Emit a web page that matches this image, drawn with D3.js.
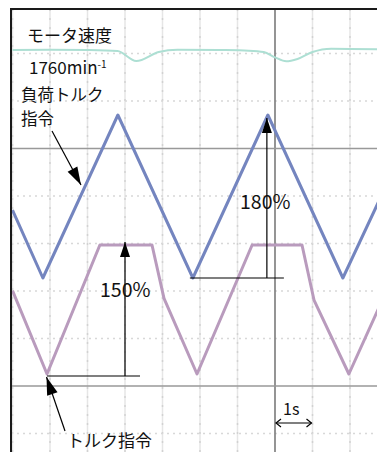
<!DOCTYPE html>
<html>
<head>
<meta charset="utf-8">
<script src="https://cdn.jsdelivr.net/npm/d3@7"></script>
<style>
  html, body { margin: 0; padding: 0; background: #fff; }
  svg { display: block; }
  text { font-family: "Noto Sans CJK JP", "Noto Sans", sans-serif; fill: #111; }
</style>
</head>
<body>
<svg id="chart" width="377" height="452"></svg>
<script>
// Oscilloscope capture: motor speed, load torque command, torque command.
// Time in seconds (1 division = 1 s).

// Load torque command (%), triangular wave
const loadTorqueT = [0, 0.81, 2.81, 4.81, 6.81, 8.81, 9.76];
const loadTorqueV = [75, 0, 180, 0, 180, 0, 84];

// Torque command (%), clipped at 150 %
const torqueT = [0, 0.92, 2.33, 3.72, 4.04, 4.92, 6.39, 7.72, 8.04, 8.97, 9.76];
const torqueV = [97, 0, 150, 150, 88, 0, 150, 150, 86, 0, 76];

// Motor speed (min^-1)
const speedT = [0, 1.0, 2.0, 2.8, 3.3, 3.9, 4.4, 5.5, 6.3, 6.7, 7.0, 7.3, 7.6, 8.0, 8.5, 9.76];
const speedV = [1760, 1761, 1760, 1757, 1727, 1754, 1761, 1760, 1758, 1754, 1738, 1726, 1733, 1754, 1764, 1762];

// Graticule
const gridCols = d3.range(0, 11);      // vertical lines, seconds
const gridRows = d3.range(-1, 9);      // horizontal lines, divisions
const darkCols = [7];
const darkRows = [0, 5];

// Labels
const percentLoad = "180%";
const percentTorque = "150%";

const svg = d3.select("#chart");
const W = 377, H = 452;

const x = d3.scaleLinear().domain([0, 10]).range([12.5, 387.5]);
const yDiv = d3.scaleLinear().domain([0, 8]).range([386, 6]);
const yLoad = d3.scaleLinear().domain([0, 180]).range([278, 115]);
const yTorque = d3.scaleLinear().domain([0, 150]).range([374, 245]);
const ySpeed = d3.scaleLinear().domain([1724, 1760]).range([62, 50]);

const plot = svg.append("g");
plot.append("defs").append("clipPath").attr("id", "clip")
  .append("rect").attr("x", 11).attr("y", 9).attr("width", W - 11).attr("height", H - 9);

const g = plot.append("g").attr("clip-path", "url(#clip)");

// graticule lines
const lightCols = gridCols.filter(c => !darkCols.includes(c));
g.selectAll("line.vgrid").data(lightCols).join("line")
  .attr("x1", d => x(d)).attr("x2", d => x(d))
  .attr("y1", 9).attr("y2", H)
  .attr("stroke", "#e6e6e6").attr("stroke-width", 1.5);
g.selectAll("line.vdot").data(lightCols).join("line")
  .attr("x1", d => x(d)).attr("x2", d => x(d))
  .attr("y1", 9).attr("y2", H)
  .attr("stroke", "#d2d2d2").attr("stroke-width", 1.5)
  .attr("stroke-dasharray", "2,7");
g.selectAll("line.hgrid").data(gridRows.filter(r => !darkRows.includes(r))).join("line")
  .attr("x1", 11).attr("x2", W)
  .attr("y1", d => yDiv(d)).attr("y2", d => yDiv(d))
  .attr("stroke", "#d8d8d8").attr("stroke-width", 1.5)
  .attr("stroke-dasharray", "2,4");
g.selectAll("line.vdark").data(darkCols).join("line")
  .attr("x1", d => x(d)).attr("x2", d => x(d))
  .attr("y1", 9).attr("y2", H)
  .attr("stroke", "#7a7a7a").attr("stroke-width", 1.6);
g.selectAll("line.hdark").data(darkRows).join("line")
  .attr("x1", 11).attr("x2", W)
  .attr("y1", d => yDiv(d)).attr("y2", d => yDiv(d))
  .attr("stroke", "#999").attr("stroke-width", 1.6);

// traces
const lineOf = (ys) => d3.line().x(d => x(d[0])).y(d => ys(d[1]));
g.append("path")
  .datum(d3.zip(speedT, speedV))
  .attr("d", lineOf(ySpeed).curve(d3.curveMonotoneX))
  .attr("fill", "none").attr("stroke", "#addfd3").attr("stroke-width", 2);
g.append("path")
  .datum(d3.zip(loadTorqueT, loadTorqueV))
  .attr("d", lineOf(yLoad))
  .attr("fill", "none").attr("stroke", "#7485bf").attr("stroke-width", 3)
  .attr("stroke-linejoin", "round");
g.append("path")
  .datum(d3.zip(torqueT, torqueV))
  .attr("d", lineOf(yTorque))
  .attr("fill", "none").attr("stroke", "#b99bbd").attr("stroke-width", 3)
  .attr("stroke-linejoin", "round");

// frame
plot.append("line").attr("x1", 10).attr("x2", W).attr("y1", 9).attr("y2", 9)
  .attr("stroke", "#1a1a1a").attr("stroke-width", 2);
plot.append("line").attr("x1", 11).attr("x2", 11).attr("y1", 8).attr("y2", H)
  .attr("stroke", "#1a1a1a").attr("stroke-width", 2);

// annotations
const ann = svg.append("g");
function arrow(x1, y1, x2, y2, len, half) {
  ann.append("line").attr("x1", x1).attr("y1", y1).attr("x2", x2).attr("y2", y2)
    .attr("stroke", "#000").attr("stroke-width", 1.2);
  const a = Math.atan2(y2 - y1, x2 - x1);
  const bx = x2 - len * Math.cos(a), by = y2 - len * Math.sin(a);
  const px = -Math.sin(a) * half, py = Math.cos(a) * half;
  ann.append("path")
    .attr("d", `M${x2},${y2}L${bx + px},${by + py}L${bx - px},${by - py}Z`)
    .attr("fill", "#000");
}

// 180 % span of load torque
const peakX = x(loadTorqueT[4]) - 1;
ann.append("line")
  .attr("x1", x(loadTorqueT[3]) - 3).attr("x2", x(loadTorqueT[3]) + 91)
  .attr("y1", yLoad(0)).attr("y2", yLoad(0))
  .attr("stroke", "#000").attr("stroke-width", 1.2);
arrow(peakX, yLoad(0), peakX, yLoad(180) + 3, 15, 5);

// 150 % span of torque command
const spanX = 125;
ann.append("line")
  .attr("x1", x(torqueT[1])).attr("x2", x(torqueT[1]) + 93)
  .attr("y1", yTorque(0) + 2).attr("y2", yTorque(0) + 2)
  .attr("stroke", "#000").attr("stroke-width", 1.2);
arrow(spanX, yTorque(0) + 2, spanX, yTorque(150) - 3, 15, 5);

// pointers to the traces
arrow(52, 131, 81, 185, 18, 5.5);
arrow(65, 431, x(torqueT[1]) - 0.5, yTorque(0) + 3, 18, 5.5);

// 1 s marker
const sx1 = x(7) + 1, sx2 = x(8) - 1, sy = 423;
ann.append("line").attr("x1", sx1).attr("x2", sx2).attr("y1", sy).attr("y2", sy)
  .attr("stroke", "#000").attr("stroke-width", 1.2);
ann.append("path").attr("d", `M${sx1 + 5},${sy - 4}L${sx1},${sy}L${sx1 + 5},${sy + 4}`)
  .attr("fill", "none").attr("stroke", "#000").attr("stroke-width", 1.2);
ann.append("path").attr("d", `M${sx2 - 5},${sy - 4}L${sx2},${sy}L${sx2 - 5},${sy + 4}`)
  .attr("fill", "none").attr("stroke", "#000").attr("stroke-width", 1.2);

// texts
const fs = "17px";
ann.append("text").attr("x", 27).attr("y", 42).style("font-size", fs).text("モータ速度");
const sp = ann.append("text").attr("x", 29).attr("y", 74).style("font-size", fs);
sp.append("tspan").text("1760min");
sp.append("tspan").attr("dy", -6).style("font-size", "10px").text("-1");
ann.append("text").attr("x", 21).attr("y", 101).style("font-size", "16.5px").text("負荷トルク");
ann.append("text").attr("x", 21).attr("y", 125).style("font-size", "16.5px").text("指令");
ann.append("text").attr("x", 240).attr("y", 209).style("font-size", "19.5px").text(percentLoad);
ann.append("text").attr("x", 100).attr("y", 297).style("font-size", "19.5px").text(percentTorque);
ann.append("text").attr("x", 67).attr("y", 447).style("font-size", fs).text("トルク指令");
ann.append("text").attr("x", 283).attr("y", 415).style("font-size", "16px").text("1s");
</script>
</body>
</html>
